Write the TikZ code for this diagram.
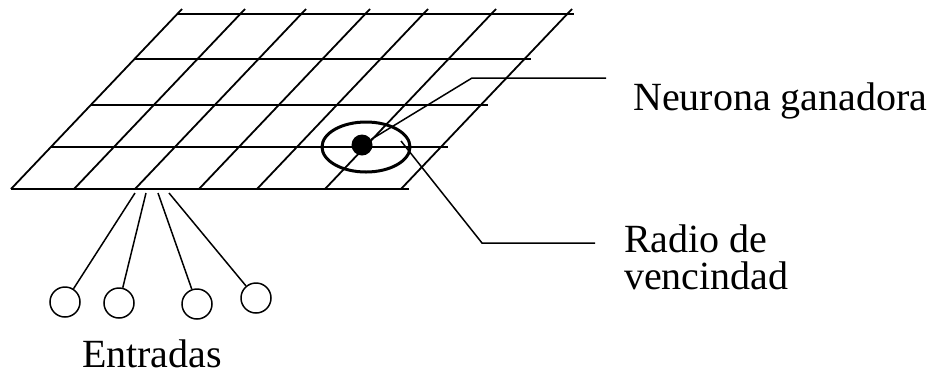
\documentclass[tikz,border=0pt]{standalone}
\usepackage{fontspec}
\setmainfont{Liberation Serif}
\usetikzlibrary{positioning,shapes.geometric,calc}

\begin{document}
\begin{tikzpicture}[
    x=1pt, y=-1pt,
    gridLine/.style={line width=1.8pt},
    leadLine/.style={line width=1.5pt},
    inputStyle/.style={circle, draw=black, line width=1.5pt, minimum size=30pt, inner sep=0pt},
    labelStyle/.style={font=\fontsize{40}{37}\selectfont, inner sep=0pt}
]
    \useasboundingbox (0,0) rectangle (928,376);

    % Grid rows
    \foreach \y/\xa/\xb in {189/11/409, 147/51/448, 105/91/488, 59/134/531, 14/177/574}
        \draw[gridLine] (\xa,\y) -- (\xb,\y);
    % Grid columns
    \foreach \x in {11,74,135,199,257,325,401}
        \draw[gridLine] (\x,189) -- (\x+171,9);

    % Winning neuron and neighbourhood
    \node[ellipse, draw=black, line width=3pt, minimum width=88pt, minimum height=50pt, inner sep=0pt] (radio) at (366,147) {};
    \node[circle, fill=black, minimum size=21pt, inner sep=0pt] (ganadora) at (362,145) {};

    % Labels
    \node[labelStyle, anchor=base west] (lblGanadora) at (633,110) {Neurona ganadora};
    \node[labelStyle, anchor=north west, align=left] (lblRadio) at (624,225) {Radio de\\vencindad};
    \node[labelStyle, anchor=base, text depth=0pt] (lblEntradas) at (152,367) {Entradas};

    % Leader lines
    \coordinate (g1) at (472,78);
    \coordinate (g2) at (606,78);
    \draw[leadLine] (ganadora) -- (g1) -- (g2);
    \coordinate (r0) at (401,141);
    \coordinate (r1) at (482,243);
    \coordinate (r2) at (595,243);
    \draw[leadLine] (r0) -- (r1) -- (r2);

    % Inputs
    \foreach \i/\cx/\cy/\ex in {1/65/302/135, 2/119/303/146, 3/197/304/158, 4/256/298/169} {
        \node[inputStyle] (in\i) at (\cx,\cy) {};
        \coordinate (top\i) at (\ex,193);
        \draw[leadLine] (in\i) -- (top\i);
    }
\end{tikzpicture}
\end{document}
